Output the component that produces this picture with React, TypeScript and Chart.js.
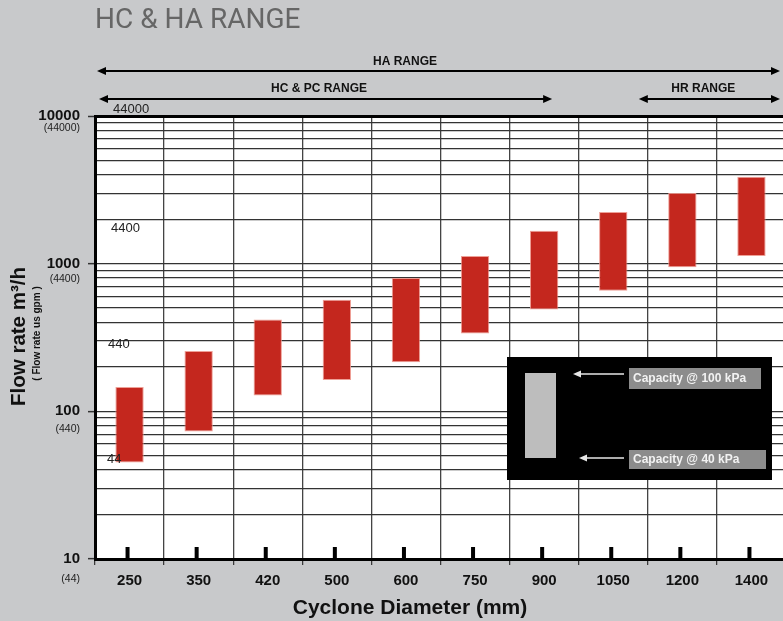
import React, { useEffect, useRef } from 'react';
import { Chart, registerables } from 'chart.js';

Chart.register(...registerables);

// ---- data ----
const diameters = ['250', '350', '420', '500', '600', '750', '900', '1050', '1200', '1400'];
const capacityAt40kPa = [45, 73, 128, 163, 215, 336, 490, 656, 944, 1128];
const capacityAt100kPa = [146, 256, 418, 570, 800, 1128, 1670, 2240, 3010, 3880];
const yMajorTicks = [10, 100, 1000, 10000];
const yMajorTickGpm = ['(44)', '(440)', '(4400)', '(44000)'];
const yMinorMultiples = [2, 3, 4, 5, 6, 7, 8, 9];
const gpmInnerLabels = ['44000', '4400', '440', '44'];
const gpmInnerAt = [11150, 1745, 284, 47];
const rangeLabels = ['HA RANGE', 'HC & PC RANGE', 'HR RANGE'];
const legendLabels = ['Capacity @ 100 kPa', 'Capacity @ 40 kPa'];

const FONT = "'Liberation Sans', Arial, sans-serif";

const yGridValues: number[] = [];
yMajorTicks.forEach((d, i) => {
  yGridValues.push(d);
  if (i < yMajorTicks.length - 1) yMinorMultiples.forEach((m) => yGridValues.push(d * m));
});
yGridValues.sort((a, b) => a - b);

function arrow(ctx: CanvasRenderingContext2D, x1: number, x2: number, y: number, left: boolean, right: boolean, color: string, lw: number, hl: number, hw: number) {
  ctx.save();
  ctx.strokeStyle = color;
  ctx.fillStyle = color;
  ctx.lineWidth = lw;
  ctx.beginPath();
  ctx.moveTo(left ? x1 + hl - 1 : x1, y);
  ctx.lineTo(right ? x2 - hl + 1 : x2, y);
  ctx.stroke();
  if (left) {
    ctx.beginPath();
    ctx.moveTo(x1, y);
    ctx.lineTo(x1 + hl, y - hw);
    ctx.lineTo(x1 + hl, y + hw);
    ctx.closePath();
    ctx.fill();
  }
  if (right) {
    ctx.beginPath();
    ctx.moveTo(x2, y);
    ctx.lineTo(x2 - hl, y - hw);
    ctx.lineTo(x2 - hl, y + hw);
    ctx.closePath();
    ctx.fill();
  }
  ctx.restore();
}

const overlayPlugin = {
  id: 'overlay',
  beforeDraw(chart: any) {
    const { ctx, chartArea: ca, width, height } = chart;
    ctx.save();
    ctx.fillStyle = '#c8c9cb';
    ctx.fillRect(0, 0, width, height);
    ctx.fillStyle = '#ffffff';
    ctx.fillRect(ca.left, ca.top, ca.right - ca.left, ca.bottom - ca.top);
    ctx.restore();
  },
  afterDraw(chart: any) {
    const { ctx, chartArea: ca } = chart;
    const xs = chart.scales.x;
    const ys = chart.scales.y;
    const colW = (ca.right - ca.left) / diameters.length;
    ctx.save();

    // main title
    ctx.fillStyle = '#666666';
    ctx.font = "400 28px Roboto, sans-serif";
    ctx.textAlign = 'left';
    ctx.textBaseline = 'alphabetic';
    ctx.fillText('HC & HA RANGE', ca.left, 27.5);
    ctx.textBaseline = 'middle';

    // range arrows
    const yA = 71;
    const yB = 99;
    arrow(ctx, ca.left + 2, ca.right - 6, yA, true, true, '#000', 1.8, 9, 4);
    arrow(ctx, ca.left + 4, xs.getPixelForValue(6) + 8, yB, true, true, '#000', 1.8, 9, 4);
    arrow(ctx, xs.getPixelForValue(8) - colW / 2 - 9, ca.right - 6, yB, true, true, '#000', 1.8, 9, 4);
    ctx.fillStyle = '#111';
    ctx.font = `bold 12px ${FONT}`;
    ctx.textAlign = 'center';
    ctx.fillText(rangeLabels[0], ca.left + 310, 62);
    ctx.fillText(rangeLabels[1], ca.left + 224, 89);
    ctx.fillText(rangeLabels[2], xs.getPixelForValue(8) + 21, 89);

    // secondary tick labels (gpm)
    ctx.font = `10.5px ${FONT}`;
    ctx.textAlign = 'right';
    ctx.fillStyle = '#222';
    const subOff = [20, 18, 15, 12];
    yMajorTicks.forEach((v, i) => {
      ctx.fillText(yMajorTickGpm[i], ca.left - 15, ys.getPixelForValue(v) + subOff[i]);
    });

    // gpm labels inside plot
    ctx.font = `13px ${FONT}`;
    ctx.textAlign = 'left';
    const inOff = [18, 16, 13, 12];
    gpmInnerLabels.forEach((t, i) => {
      ctx.fillText(t, ca.left + inOff[i], ys.getPixelForValue(gpmInnerAt[i]));
    });

    // bold ticks at category centers
    ctx.fillStyle = '#000';
    diameters.forEach((_, i) => {
      const x = xs.getPixelForValue(i) - 2;
      ctx.fillRect(x - 2, ca.bottom - 12, 4, 12);
    });

    // axis titles
    ctx.fillStyle = '#111';
    ctx.font = `bold 21px ${FONT}`;
    ctx.textAlign = 'center';
    ctx.fillText('Cyclone Diameter (mm)', ca.left + 315, 608);
    ctx.save();
    ctx.translate(19, (ca.top + ca.bottom) / 2 - 1);
    ctx.rotate(-Math.PI / 2);
    ctx.font = `bold 20.5px ${FONT}`;
    ctx.fillText('Flow rate m\u00B3/h', 0, 0);
    ctx.restore();
    ctx.save();
    ctx.translate(37, (ca.top + ca.bottom) / 2 - 4);
    ctx.rotate(-Math.PI / 2);
    ctx.font = `bold 10px ${FONT}`;
    ctx.fillText('( Flow rate us gpm )', 0, 0);
    ctx.restore();

    // legend box
    const bx = ca.left + 412;
    const by = ca.top + 241;
    ctx.fillStyle = '#000';
    ctx.fillRect(bx, by, 265, 123);
    ctx.fillStyle = '#bdbdbd';
    ctx.fillRect(bx + 18, by + 16, 31, 85);
    arrow(ctx, bx + 66, bx + 117, by + 17, true, false, '#e6e6e6', 1.5, 8, 3.5);
    arrow(ctx, bx + 72, bx + 117, by + 101, true, false, '#e6e6e6', 1.5, 8, 3.5);
    ctx.fillStyle = '#8c8c8c';
    ctx.fillRect(bx + 122, by + 11, 132, 21);
    ctx.fillRect(bx + 122, by + 93, 137, 19);
    ctx.fillStyle = '#f2f2f2';
    ctx.font = `bold 12px ${FONT}`;
    ctx.textAlign = 'left';
    ctx.fillText(legendLabels[0], bx + 126, by + 22);
    ctx.fillText(legendLabels[1], bx + 126, by + 103);

    ctx.restore();
  },
};

export default function App() {
  const ref = useRef<HTMLCanvasElement | null>(null);
  useEffect(() => {
    if (!ref.current) return;
    const chart = new Chart(ref.current, {
      type: 'bar',
      data: {
        labels: diameters,
        datasets: [
          {
            label: 'Capacity range (40 - 100 kPa)',
            data: diameters.map((_, i) => [capacityAt40kPa[i], capacityAt100kPa[i]]) as any,
            backgroundColor: '#c4271e',
            borderColor: 'rgba(236,150,140,0.9)',
            borderWidth: 1,
            borderSkipped: false,
            barPercentage: 0.41,
            categoryPercentage: 1,
          },
        ],
      },
      options: {
        responsive: false,
        animation: false,
        devicePixelRatio: 1,
        layout: { padding: { left: 0, top: 116, right: 24, bottom: 0 } },
        plugins: {
          legend: { display: false },
          tooltip: { enabled: false },
          title: { display: false },
        },
        scales: {
          x: {
            type: 'category',
            offset: true,
            afterFit: (s: any) => { s.height = 62; },
            grid: {
              offset: true,
              color: '#444',
              lineWidth: 1.3,
              tickLength: 6,
              tickColor: '#333',
              tickWidth: 1.2,
            },
            border: { display: true, color: '#000', width: 3 },
            ticks: {
              color: '#111',
              font: { family: FONT, size: 15, weight: 'bold' },
              padding: 7,
              autoSkip: false,
              maxRotation: 0,
            },
          },
          y: {
            type: 'logarithmic',
            min: 10,
            max: 10000,
            afterFit: (s: any) => { s.width = 95; },
            afterBuildTicks: (s: any) => {
              s.ticks = yGridValues.map((v) => ({ value: v, major: yMajorTicks.includes(v) }));
            },
            grid: {
              color: (c: any) => (c.tick && c.tick.value === 10000 ? '#000' : '#333'),
              lineWidth: (c: any) => (c.tick && c.tick.value === 10000 ? 3 : 1.3),
              tickLength: 7,
              tickWidth: 1.5,
              tickColor: (c: any) => (c.tick && yMajorTicks.includes(c.tick.value) ? '#333' : 'rgba(0,0,0,0)'),
            },
            border: { display: true, color: '#000', width: 3 },
            ticks: {
              autoSkip: false,
              color: '#111',
              font: { family: FONT, size: 15, weight: 'bold' },
              padding: 8,
              callback: (v: any) => (yMajorTicks.includes(Number(v)) ? String(v) : ''),
            },
          },
        },
      },
      plugins: [overlayPlugin],
    } as any);
    return () => chart.destroy();
  }, []);

  return (
    <div style={{ position: 'fixed', left: 0, top: 0, width: 783, height: 621, overflow: 'hidden', background: '#c8c9cb' }}>
      <canvas ref={ref} width={810} height={621} style={{ display: 'block', width: 810, height: 621 }} />
    </div>
  );
}
